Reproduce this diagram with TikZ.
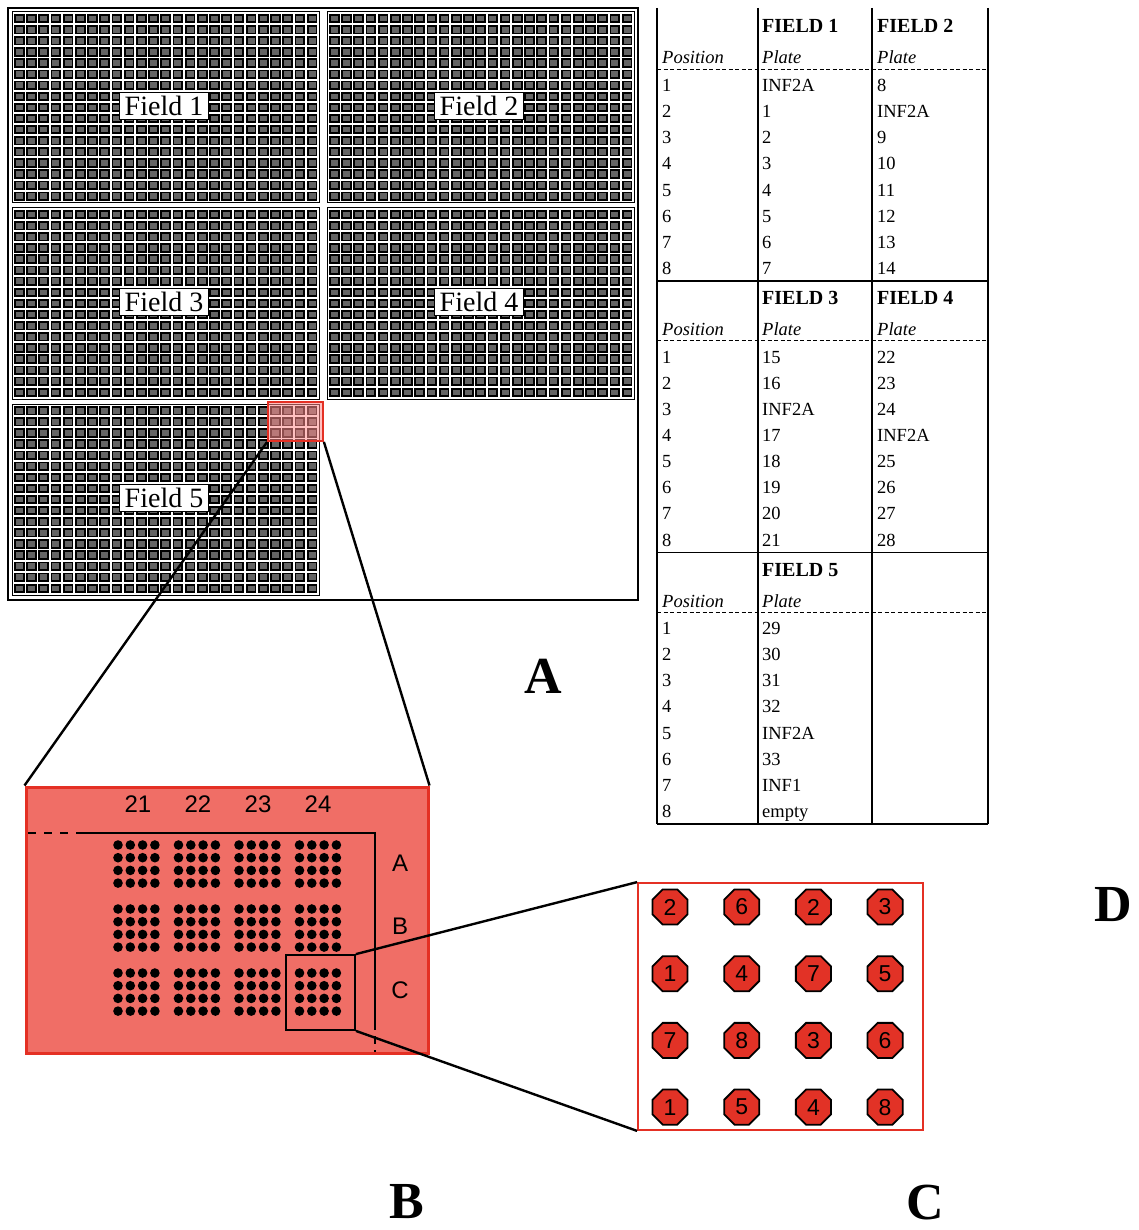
\documentclass[tikz,border=0pt]{standalone}
\usepackage{fontspec}
\setmainfont{Liberation Serif}
\setsansfont{Liberation Sans}
\usepackage{xcolor}
\usetikzlibrary{shapes.geometric, positioning}

\definecolor{wellred}{RGB}{226,50,38}
\definecolor{zoomred}{RGB}{240,110,102}
\definecolor{edgered}{RGB}{228,48,36}
\definecolor{platefill}{RGB}{100,100,100}

\begin{document}
\begin{tikzpicture}[x=1pt, y=-1pt,
    plate/.style={fill=platefill, draw=black, line width=1.8pt},
    fieldbox/.style={draw=black, line width=1pt},
    fieldlabel/.style={draw=black, fill=white, line width=1.2pt, inner xsep=5pt, inner ysep=4pt,
      font=\fontsize{28}{30}\selectfont},
    panel/.style={font=\bfseries\fontsize{52}{54}\selectfont},
    cell/.style={anchor=base west, inner sep=0pt, font=\fontsize{18.5}{20}\selectfont},
    head/.style={cell, font=\bfseries\fontsize{20}{22}\selectfont},
    colhead/.style={cell, font=\itshape\fontsize{18.5}{20}\selectfont},
    rack/.style={font=\sffamily\fontsize{24}{26}\selectfont},
    well/.style={regular polygon, regular polygon sides=8, minimum size=38pt, inner sep=0pt,
      fill=wellred, draw=black, line width=1.8pt, font=\sffamily\fontsize{23}{24}\selectfont},
    zoomline/.style={line width=2.4pt}
  ]
  \useasboundingbox (0,0) rectangle (1138,1230);

  % A: the five fields
  \draw[line width=2pt] (8,8) rectangle (638,600);
  \foreach \fx/\fy/\fn in {12/12/1, 327/12/2, 12/208/3, 327/208/4, 12/404/5} {
    \foreach \i in {0,...,24}
      \foreach \j in {0,...,16}
        \draw[plate] ({\fx+2.8+\i*12.2}, {\fy+3+\j*11.1}) rectangle +(8.8,7.4);
    \draw[fieldbox] (\fx,\fy) rectangle +(307,191);
    \node[fieldlabel] (field\fn) at (\fx+152, \fy+94) {Field \fn};
  }
  \node[draw=edgered, line width=1.8pt, fill=red!45, fill opacity=0.55,
    minimum width=55pt, minimum height=39pt, inner sep=0pt] (spot) at (295.5,421.5) {};

  % B: enlarged corner
  \node[draw=edgered, fill=zoomred, line width=3pt, minimum width=402pt,
    minimum height=266pt, inner sep=0pt] (zoomB) at (227,920) {};
  \draw[zoomline] (spot.south west) -- (zoomB.north west);
  \draw[zoomline] (spot.south east) -- (zoomB.north east);
  \foreach \c [count=\k from 0] in {21,22,23,24}
    \node[rack] (col\c) at (138+\k*60, 804) {\c};
  \foreach \r [count=\k from 0] in {A,B,C}
    \node[rack] (row\r) at (400, 863+\k*63.5) {\r};
  \draw[line width=1.8pt, dash pattern=on 8pt off 8pt] (28,833) -- (78,833);
  \draw[line width=1.8pt] (78,833) -- (375,833) -- (375,1022);
  \draw[line width=1.8pt, dash pattern=on 8pt off 6pt] (375,1022) -- (375,1052);
  \foreach \cx in {0,...,3}
    \foreach \cy in {0,...,2}
      \foreach \i in {0,...,3}
        \foreach \j in {0,...,3}
          \fill ({118+\cx*60.5+\i*12.3}, {845+\cy*64+\j*12.7}) circle (4.8pt);
  \node[draw, line width=1.8pt, minimum width=69pt, minimum height=75pt, inner sep=0pt] (pick) at (320.5,992.5) {};

  % C: one block of 16 wells
  \node[draw=edgered, fill=white, line width=1.8pt, minimum width=285pt,
    minimum height=247pt, inner sep=0pt] (zoomC) at (780.5,1006.5) {};
  \draw[zoomline] (pick.north east) -- (zoomC.north west);
  \draw[zoomline] (pick.south east) -- (zoomC.south west);
  \foreach \row [count=\j from 0] in {{2,6,2,3},{1,4,7,5},{7,8,3,6},{1,5,4,8}}
    \foreach \n [count=\i from 0] in \row
      \node[well] (well\j\i) at (670+\i*71.7, 907+\j*66.7) {\n};

  \node[panel] (labA) at (543,676) {A};
  \node[panel] (labB) at (407,1202) {B};
  \node[panel] (labC) at (925,1203) {C};
  \node[panel] (labD) at (1113,905) {D};

  % D: table of plates
  \foreach \x in {657,758,872,988}
    \draw[line width=1.5pt] (\x,8) -- (\x,824);
  \foreach \b in {0,1,2} {
    \draw[line width=0.8pt, dash pattern=on 4pt off 2.5pt] (657, 69+\b*271.5) -- (988, 69+\b*271.5);
    \draw[line width=1.5pt] (657, 281+\b*271.5) -- (988, 281+\b*271.5);
    \node[colhead] (pos\b) at (662, 64+\b*271.5) {Position};
    \node[colhead] (plate\b) at (762, 64+\b*271.5) {Plate};
    \foreach \r in {1,...,8}
      \node[cell] (num\b\r) at (662, {65.35+\b*271.5+\r*26.15}) {\r};
  }
  \node[colhead] (plateB0) at (877, 64) {Plate};
  \node[colhead] (plateB1) at (877, 335.5) {Plate};
  \node[head] (hd1) at (762, 33) {FIELD 1};
  \node[head] (hd2) at (877, 33) {FIELD 2};
  \node[head] (hd3) at (762, 304.5) {FIELD 3};
  \node[head] (hd4) at (877, 304.5) {FIELD 4};
  \node[head] (hd5) at (762, 576) {FIELD 5};
  \foreach \v [count=\r] in {INF2A,1,2,3,4,5,6,7}
    \node[cell] (fa\r) at (762, {65.35+\r*26.15}) {\v};
  \foreach \v [count=\r] in {8,INF2A,9,10,11,12,13,14}
    \node[cell] (fb\r) at (877, {65.35+\r*26.15}) {\v};
  \foreach \v [count=\r] in {15,16,INF2A,17,18,19,20,21}
    \node[cell] (fc\r) at (762, {336.85+\r*26.15}) {\v};
  \foreach \v [count=\r] in {22,23,24,INF2A,25,26,27,28}
    \node[cell] (fd\r) at (877, {336.85+\r*26.15}) {\v};
  \foreach \v [count=\r] in {29,30,31,32,INF2A,33,INF1,empty}
    \node[cell] (fe\r) at (762, {608.35+\r*26.15}) {\v};
\end{tikzpicture}
\end{document}
